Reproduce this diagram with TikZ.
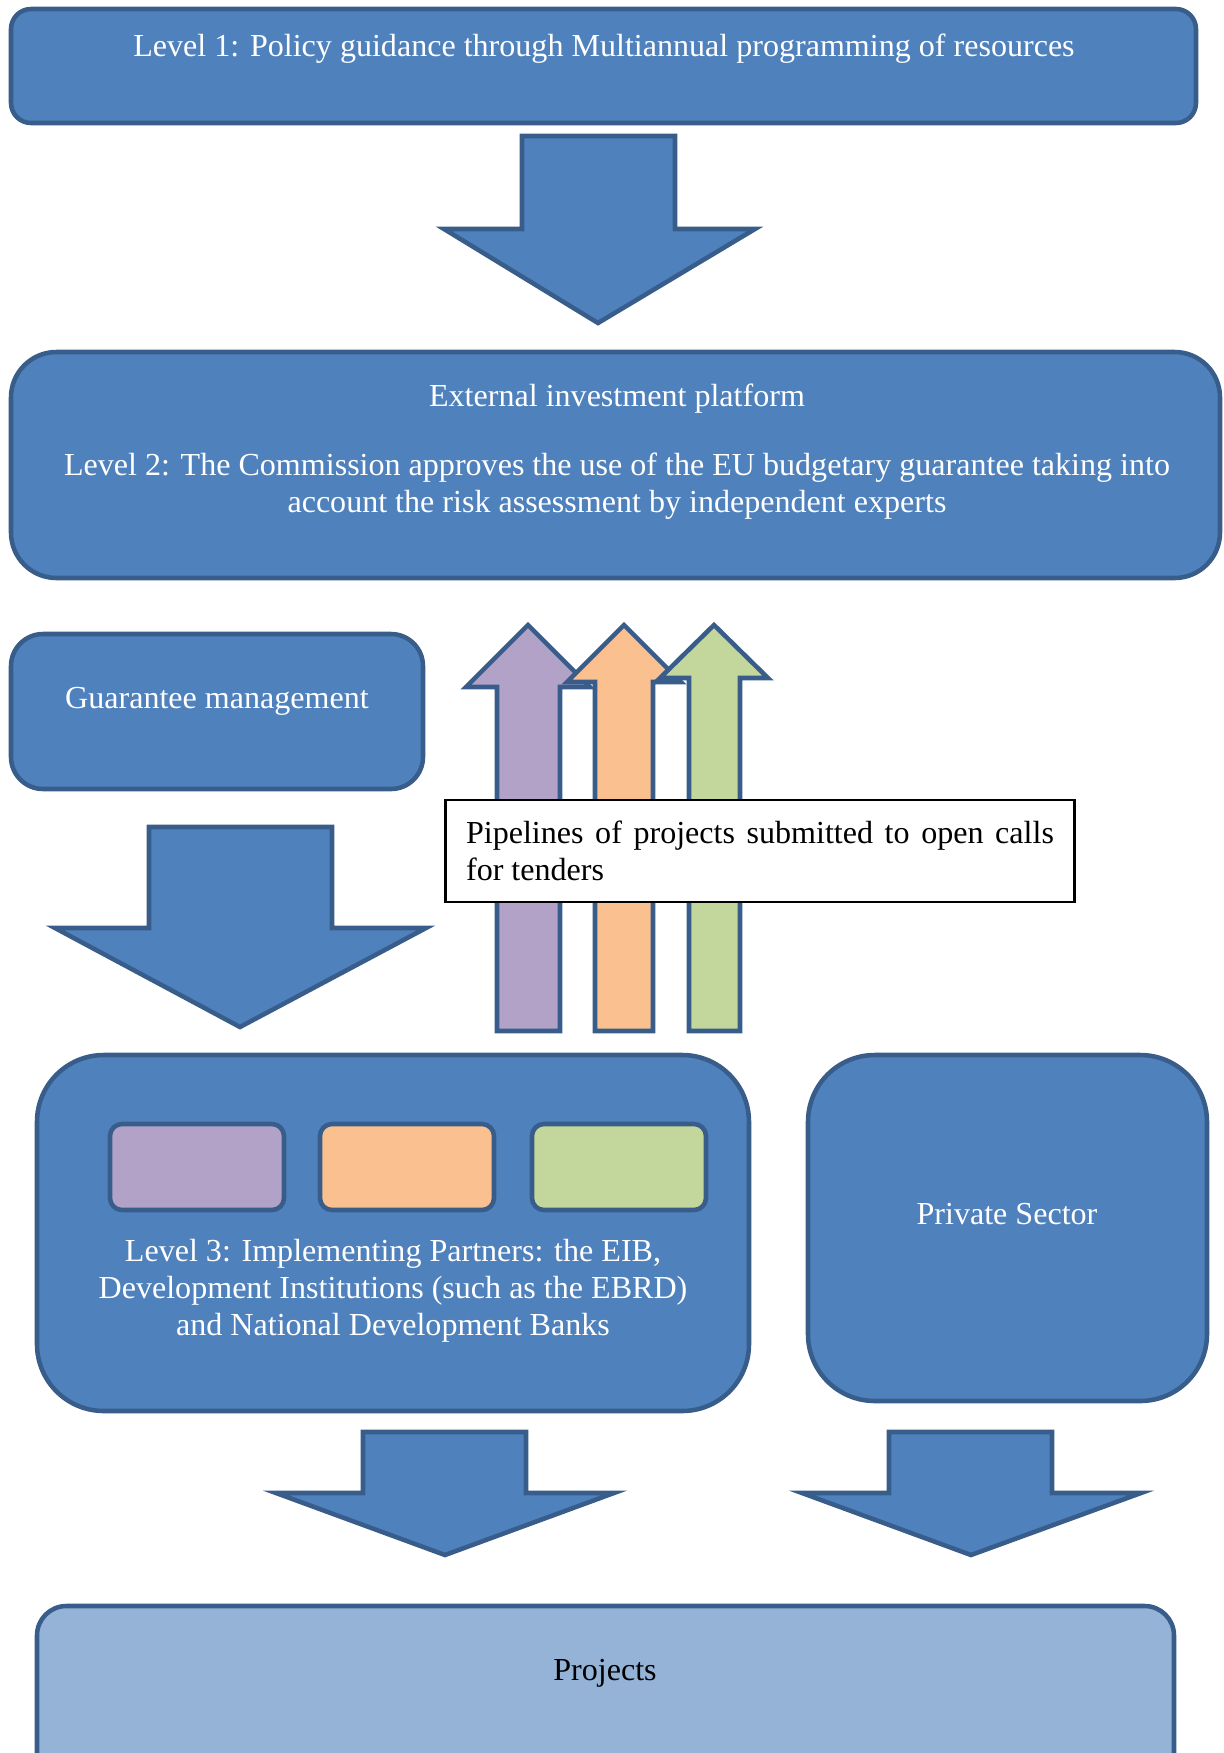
\documentclass[tikz,border=0pt]{standalone}
\usepackage{fontspec}
\setmainfont{Liberation Serif}
\usetikzlibrary{arrows.meta}

\definecolor{boxblue}{HTML}{4F81BD}
\definecolor{boxedge}{HTML}{385D8A}
\definecolor{paleblue}{HTML}{95B3D7}
\definecolor{lilac}{HTML}{B2A2C7}
\definecolor{peach}{HTML}{FAC090}
\definecolor{sage}{HTML}{C3D69B}

\tikzset{panel/.style = {draw=boxedge, fill=boxblue, line width=1.7pt},
         blockarrow/.style = {draw=boxedge, fill=boxblue, line width=1.7pt, line join=miter},
         pipearrow/.style = {draw=boxedge, line width=1.7pt, line join=miter},
         paneltext/.style = {text=white, font=\fontsize{12}{13.8}\selectfont, inner sep=0pt, align=center},
         pipebox/.style = {draw=black, fill=white, line width=0.8pt, text width=220pt,
                           inner xsep=7.7pt, minimum height=38pt, align=justify,
                           font=\fontsize{12}{13.8}\selectfont}}

\begin{document}
\begin{tikzpicture}%
    [x = 0.01316cm, y = -0.01316cm]
    \useasboundingbox (0,0) rectangle (1224,1753);
    \clip (0,0) rectangle (1224,1753);

    \draw[panel, rounded corners=7.5pt] (11,9) rectangle (1196,123);
    \node[paneltext] (levelone) at (604,49) {Level 1: Policy guidance through Multiannual programming of resources};

    \draw[blockarrow] (522,136) -- (675,136) -- (675,229) -- (755,229) -- (598,323) -- (444,229) -- (522,229) -- cycle;

    \draw[panel, rounded corners=17pt] (11,352) rectangle (1220,578);
    \node[paneltext] (platform) at (617,399) {External investment platform};
    \node[paneltext] (leveltwo) at (617,486) {Level 2: The Commission approves the use of the EU budgetary guarantee taking into\\account the risk assessment by independent experts};

    \draw[panel, rounded corners=12pt] (11,634) rectangle (423,789);
    \node[paneltext] (guarantee) at (217,701) {Guarantee management};

    \draw[blockarrow] (149,827) -- (332,827) -- (332,928) -- (426,928) -- (240,1027) -- (55,928) -- (149,928) -- cycle;

    \draw[pipearrow, fill=lilac] (497,1031) -- (497,687) -- (466,687) -- (528,625) -- (590,687) -- (560,687) -- (560,1031) -- cycle;
    \draw[pipearrow, fill=peach] (595,1031) -- (595,682) -- (567,682) -- (624,625) -- (681,682) -- (653,682) -- (653,1031) -- cycle;
    \draw[pipearrow, fill=sage] (689,1031) -- (689,678) -- (660,678) -- (714,625) -- (768,678) -- (740,678) -- (740,1031) -- cycle;

    \node[pipebox] (pipelines) at (760,851) {Pipelines of projects submitted to open calls\linebreak for tenders};

    \draw[panel, rounded corners=25pt] (37,1055) rectangle (749,1411);
    \draw[pipearrow, fill=lilac, rounded corners=4.5pt] (110,1124) rectangle (284,1210);
    \draw[pipearrow, fill=peach, rounded corners=4.5pt] (320,1124) rectangle (494,1210);
    \draw[pipearrow, fill=sage, rounded corners=4.5pt] (532,1124) rectangle (706,1210);
    \node[paneltext] (levelthree) at (393,1291) {Level 3: Implementing Partners: the EIB,\\Development Institutions (such as the EBRD)\\and National Development Banks};

    \draw[panel, rounded corners=25pt] (808,1055) rectangle (1207,1401);
    \node[paneltext] (private) at (1007,1214) {Private Sector};

    \draw[blockarrow] (363,1432) -- (526,1432) -- (526,1493) -- (614,1493) -- (445,1555) -- (276,1493) -- (363,1493) -- cycle;
    \draw[blockarrow] (889,1432) -- (1052,1432) -- (1052,1493) -- (1141,1493) -- (971,1555) -- (802,1493) -- (889,1493) -- cycle;

    \draw[panel, fill=paleblue, rounded corners=11pt] (37,1606) rectangle (1174,1800);
    \node[paneltext, text=black] (projects) at (605,1673) {Projects};

\end{tikzpicture}
\end{document}
